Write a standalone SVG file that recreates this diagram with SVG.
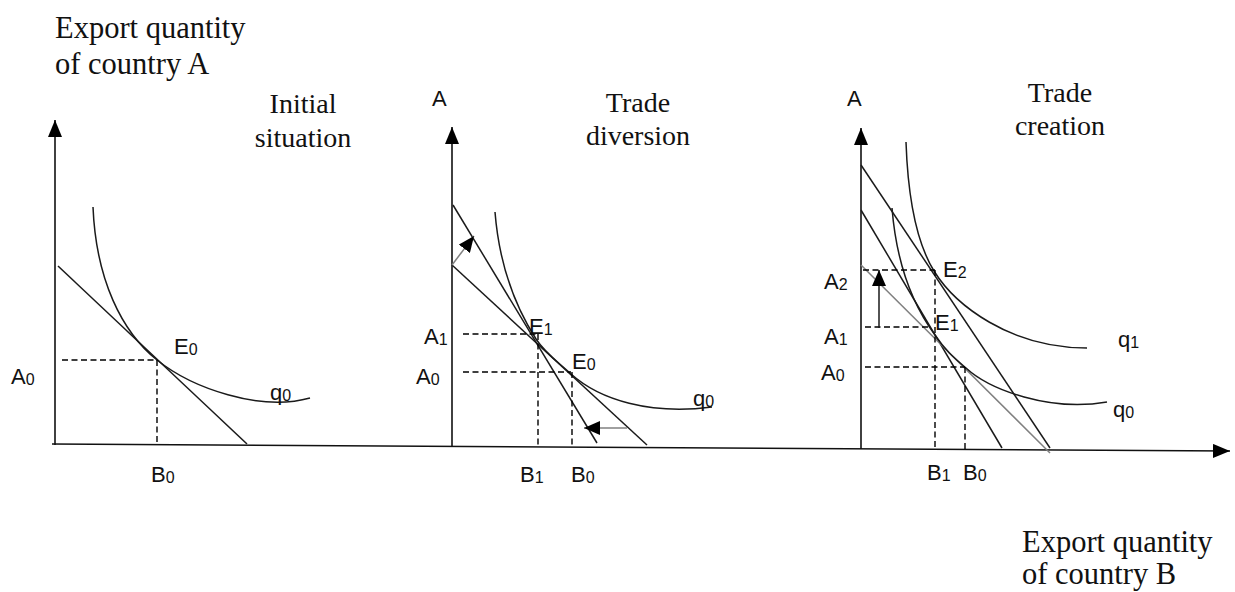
<svg xmlns="http://www.w3.org/2000/svg" width="1235" height="592" viewBox="0 0 1235 592">
<style>
.ax{stroke:#111;stroke-width:1.6;fill:none}
.ln{stroke:#1a1a1a;stroke-width:1.5;fill:none}
.gl{stroke:#808080;stroke-width:1.5;fill:none}
.cv{stroke:#1a1a1a;stroke-width:1.5;fill:none}
.ds{stroke:#000;stroke-width:1.4;fill:none;stroke-dasharray:6,3.5}
.t{font-family:"Liberation Serif","Times New Roman",serif;font-size:30.5px;fill:#111}
.h{font-family:"Liberation Serif","Times New Roman",serif;font-size:28px;fill:#111;text-anchor:middle}
.l{font-family:"Liberation Sans",Arial,sans-serif;font-size:22px;fill:#111}
.s{font-size:16px}
</style>
<defs>
<marker id="ah" markerUnits="userSpaceOnUse" markerWidth="17" markerHeight="14" refX="17" refY="7" orient="auto">
<path d="M0,0 L17,7 L0,14 Z" fill="#000"/>
</marker>
<marker id="sa" markerUnits="userSpaceOnUse" markerWidth="16" markerHeight="14" refX="16" refY="7" orient="auto">
<path d="M0,0 L16,7 L0,14 Z" fill="#000"/>
</marker>
</defs>

<g id="axes">
<line class="ax" x1="52" y1="444" x2="1230" y2="451" marker-end="url(#ah)"/>
<line class="ax" x1="55" y1="445" x2="55" y2="120" marker-end="url(#ah)"/>
<line class="ax" x1="452" y1="447" x2="452" y2="127" marker-end="url(#ah)"/>
<line class="ax" x1="861" y1="449" x2="861" y2="128" marker-end="url(#ah)"/>
</g>

<g id="axis-titles">
<text class="t" x="55" y="38">Export quantity</text>
<text class="t" x="55" y="74">of country A</text>
<text class="t" x="1022" y="552">Export quantity</text>
<text class="t" x="1022" y="584">of country B</text>
</g>

<g id="panel-initial">
<text class="h" x="303" y="113">Initial</text>
<text class="h" x="303" y="147">situation</text>
<line class="ln" x1="58" y1="266" x2="247" y2="444"/>
<path class="cv" d="M93,207 C96,280 122,332 157,360 C192,388 260,412 310,398"/>
<line class="ds" x1="62" y1="360" x2="157" y2="360"/>
<line class="ds" x1="157" y1="360" x2="157" y2="445"/>
<text class="l" x="174" y="354">E<tspan class="s" dy="1">0</tspan></text>
<text class="l" x="11" y="384">A<tspan class="s" dy="1">0</tspan></text>
<text class="l" x="151" y="482">B<tspan class="s" dy="1">0</tspan></text>
<text class="l" x="270" y="400">q<tspan class="s" dy="1">0</tspan></text>
</g>

<g id="panel-diversion">
<text class="l" x="432" y="106">A</text>
<text class="h" x="638" y="112">Trade</text>
<text class="h" x="638" y="145">diversion</text>
<line class="ln" x1="453" y1="205" x2="597" y2="443"/>
<line class="ln" x1="452" y1="265" x2="647" y2="445"/>
<path class="cv" d="M495,212 C500,275 520,314 536,339 C545,353 558,362 571,374 C600,400 650,415 712,407"/>
<line class="ds" x1="463" y1="334" x2="536" y2="334"/>
<line class="ds" x1="538" y1="334" x2="538" y2="447"/>
<line class="ds" x1="463" y1="372" x2="571" y2="372"/>
<line class="ds" x1="572" y1="372" x2="572" y2="447"/>
<text class="l" x="424" y="344">A<tspan class="s" dy="1">1</tspan></text>
<text class="l" x="416" y="384">A<tspan class="s" dy="1">0</tspan></text>
<text class="l" x="529" y="334">E<tspan class="s" dy="1">1</tspan></text>
<text class="l" x="572" y="369">E<tspan class="s" dy="1">0</tspan></text>
<text class="l" x="693" y="406">q<tspan class="s" dy="1">0</tspan></text>
<text class="l" x="520" y="482">B<tspan class="s" dy="1">1</tspan></text>
<text class="l" x="571" y="482">B<tspan class="s" dy="1">0</tspan></text>
</g>

<g id="panel-creation">
<text class="l" x="847" y="106">A</text>
<text class="h" x="1060" y="102">Trade</text>
<text class="h" x="1060" y="135">creation</text>
<line class="ln" x1="861" y1="165" x2="1050" y2="448"/>
<line class="ln" x1="861" y1="210" x2="1002" y2="448"/>
<line class="gl" x1="861" y1="265" x2="1050" y2="453"/>
<path class="cv" d="M906,142 C908,200 918,245 934,271 C955,305 1010,348 1087,348"/>
<path class="cv" d="M892,208 C897,270 915,308 935,335 C945,350 953,357 966,368 C990,390 1050,412 1107,402"/>
<line class="ds" x1="863" y1="270" x2="935" y2="270"/>
<line class="ds" x1="935" y1="270" x2="935" y2="449"/>
<line class="ds" x1="865" y1="327" x2="928" y2="327"/>
<line class="ds" x1="865" y1="367" x2="965" y2="367"/>
<line class="ds" x1="965" y1="367" x2="965" y2="449"/>
<text class="l" x="824" y="289">A<tspan class="s" dy="1">2</tspan></text>
<text class="l" x="824" y="344">A<tspan class="s" dy="1">1</tspan></text>
<text class="l" x="821" y="380">A<tspan class="s" dy="1">0</tspan></text>
<text class="l" x="943" y="277">E<tspan class="s" dy="1">2</tspan></text>
<text class="l" x="935" y="330">E<tspan class="s" dy="1">1</tspan></text>
<text class="l" x="1118" y="347">q<tspan class="s" dy="1">1</tspan></text>
<text class="l" x="1113" y="417">q<tspan class="s" dy="1">0</tspan></text>
<text class="l" x="927" y="480">B<tspan class="s" dy="1">1</tspan></text>
<text class="l" x="963" y="480">B<tspan class="s" dy="1">0</tspan></text>
</g>

<g id="connectors">
<line class="gl" x1="452" y1="265" x2="474" y2="236" marker-end="url(#sa)"/>
<line class="gl" x1="627" y1="428" x2="584" y2="428" marker-end="url(#sa)"/>
<line class="ln" x1="879" y1="328" x2="879" y2="270" marker-end="url(#sa)"/>
</g>
</svg>
